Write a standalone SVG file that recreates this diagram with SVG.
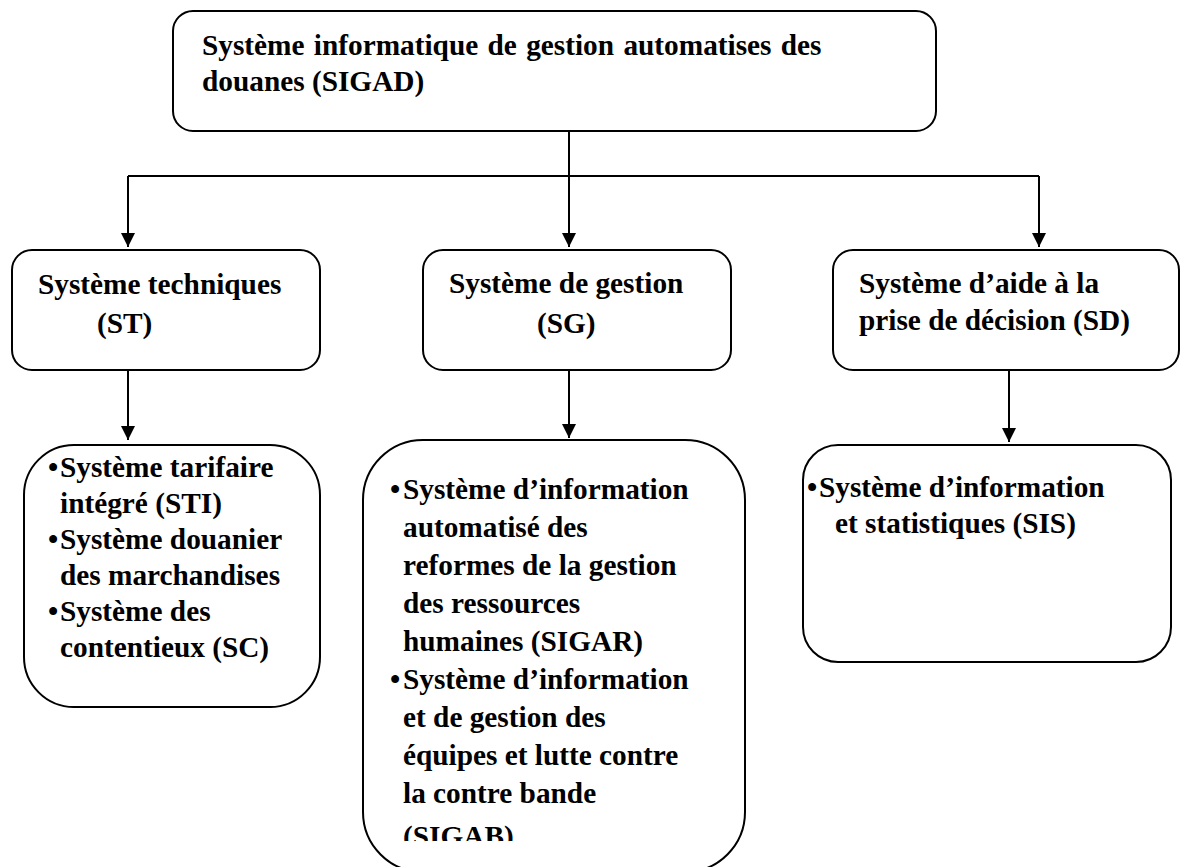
<svg xmlns="http://www.w3.org/2000/svg" width="1181" height="867" viewBox="0 0 1181 867">
  <style>
    .box { fill: #ffffff; stroke: #000000; stroke-width: 2; }
    .lbl { font-family: "Liberation Serif", "Times New Roman", serif; font-weight: bold; font-size: 29.3px; fill: #000000; }
    .wire { fill: none; stroke: #000000; stroke-width: 2; }
  </style>
  <defs>
    <marker id="arrow" markerUnits="userSpaceOnUse" markerWidth="14" markerHeight="14" refX="14" refY="7" orient="auto" viewBox="0 0 14 14">
      <path d="M0,0 L14,7 L0,14 Z" fill="#000000"/>
    </marker>
    <clipPath id="sg-clip">
      <rect x="363" y="440" width="382" height="401"/>
    </clipPath>
  </defs>
  <rect width="1181" height="867" fill="#ffffff"/>

  <!-- connectors -->
  <g id="connectors">
    <path class="wire" d="M569,131 V176"/>
    <path class="wire" d="M128,176 H1039"/>
    <path class="wire" d="M128,176 V247" marker-end="url(#arrow)"/>
    <path class="wire" d="M569,176 V247" marker-end="url(#arrow)"/>
    <path class="wire" d="M1039,176 V247" marker-end="url(#arrow)"/>
    <path class="wire" d="M128,370 V440" marker-end="url(#arrow)"/>
    <path class="wire" d="M569,370 V438" marker-end="url(#arrow)"/>
    <path class="wire" d="M1009,370 V442" marker-end="url(#arrow)"/>
  </g>

  <!-- root node -->
  <g id="sigad">
    <rect class="box" x="173" y="11" width="763" height="120" rx="20" ry="20"/>
    <text class="lbl" x="202" y="55" word-spacing="2">Système informatique de gestion automatises des</text>
    <text class="lbl" x="202" y="91">douanes (SIGAD)</text>
  </g>

  <!-- second level -->
  <g id="st">
    <rect class="box" x="12" y="250" width="308" height="120" rx="20" ry="20"/>
    <text class="lbl" x="38" y="294">Système techniques</text>
    <text class="lbl" x="97" y="333">(ST)</text>
  </g>
  <g id="sg">
    <rect class="box" x="423" y="250" width="308" height="120" rx="20" ry="20"/>
    <text class="lbl" x="449" y="293">Système de gestion</text>
    <text class="lbl" x="537" y="333">(SG)</text>
  </g>
  <g id="sd">
    <rect class="box" x="833" y="250" width="346" height="120" rx="20" ry="20"/>
    <text class="lbl" x="859" y="293">Système d’aide à la</text>
    <text class="lbl" x="859" y="330">prise de décision (SD)</text>
  </g>

  <!-- third level -->
  <g id="st-list">
    <rect class="box" x="24" y="445" width="296" height="262" rx="50" ry="50"/>
    <text class="lbl">
      <tspan x="48" y="477">•</tspan><tspan x="60" y="477">Système tarifaire</tspan>
      <tspan x="60" y="513">intégré (STI)</tspan>
      <tspan x="48" y="549">•</tspan><tspan x="60" y="549">Système douanier</tspan>
      <tspan x="60" y="585">des marchandises</tspan>
      <tspan x="48" y="621">•</tspan><tspan x="60" y="621">Système des</tspan>
      <tspan x="60" y="657">contentieux (SC)</tspan>
    </text>
  </g>
  <g id="sg-list">
    <rect class="box" x="363" y="440" width="382" height="432" rx="60" ry="60"/>
    <text class="lbl" clip-path="url(#sg-clip)">
      <tspan x="390" y="499">•</tspan><tspan x="403" y="499">Système d’information</tspan>
      <tspan x="403" y="537">automatisé des</tspan>
      <tspan x="403" y="575">reformes de la gestion</tspan>
      <tspan x="403" y="613">des ressources</tspan>
      <tspan x="403" y="651">humaines (SIGAR)</tspan>
      <tspan x="390" y="689">•</tspan><tspan x="403" y="689">Système d’information</tspan>
      <tspan x="403" y="727">et de gestion des</tspan>
      <tspan x="403" y="765">équipes et lutte contre</tspan>
      <tspan x="403" y="803">la contre bande</tspan>
      <tspan x="403" y="846">(SIGAB)</tspan>
    </text>
  </g>
  <g id="sd-list">
    <rect class="box" x="803" y="445" width="368" height="217" rx="35" ry="35"/>
    <text class="lbl">
      <tspan x="807" y="497">•</tspan><tspan x="819" y="497">Système d’information</tspan>
      <tspan x="835" y="533">et statistiques (SIS)</tspan>
    </text>
  </g>
</svg>
